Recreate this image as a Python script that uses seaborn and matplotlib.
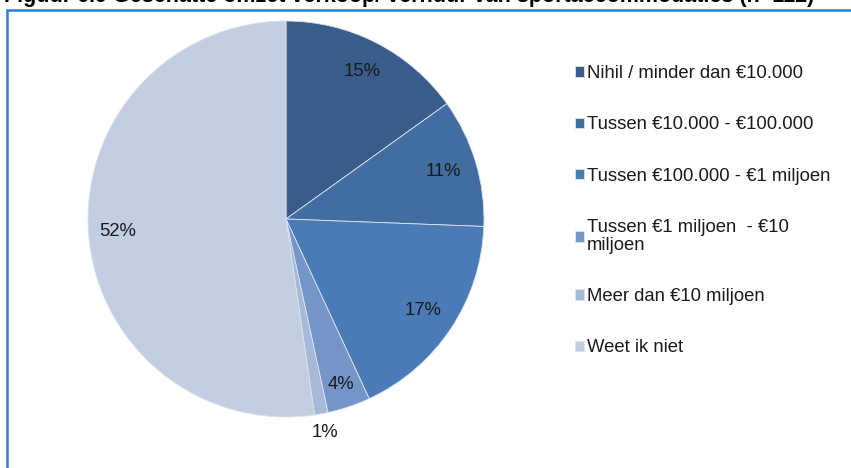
import matplotlib
matplotlib.use("Agg")
import matplotlib.pyplot as plt
import seaborn as sns
import numpy as np
from matplotlib.patches import Rectangle

categories = [
    "Nihil / minder dan €10.000",
    "Tussen €10.000 - €100.000",
    "Tussen €100.000 - €1 miljoen",
    "Tussen €1 miljoen  - €10\nmiljoen",
    "Meer dan €10 miljoen",
    "Weet ik niet",
]
values = [15.1, 10.5, 17.5, 3.5, 1.1, 52.3]
pct_labels = ["15%", "11%", "17%", "4%", "1%", "52%"]
colors = ["#385D8A", "#426DA1", "#4A7BB7", "#7395C8", "#A6B9D9", "#C3CEE3"]
title = "Figuur 6.9 Geschatte omzet verkoop/ verhuur van sportaccommodaties (n=112)"

sns.set_theme(style="white")
plt.rcParams["font.family"] = ["Liberation Sans", "DejaVu Sans"]

W, H = 851, 468
fig = plt.figure(figsize=(W / 100, H / 100), dpi=100)
fig.patch.set_facecolor("white")

cx, cy, r = 286, 219, 198
half = 1.1 * r
ax = fig.add_axes([(cx - half) / W, (H - cy - half) / H, 2 * half / W, 2 * half / H])

wedges, _ = ax.pie(values, colors=colors, startangle=90, counterclock=False,
                   wedgeprops=dict(edgecolor="#dde3ee", linewidth=0.6))
ax.set_xlim(-1.1, 1.1)
ax.set_ylim(-1.1, 1.1)
ax.set_aspect("equal")
ax.axis("off")

dists = [0.84, 0.83, 0.83, 0.88, 1.095, 0.85]
for w, lab, d in zip(wedges, pct_labels, dists):
    ang = np.deg2rad((w.theta1 + w.theta2) / 2)
    ax.text(d * np.cos(ang), d * np.sin(ang), lab, ha="center", va="center",
            fontsize=13.3, color="#1a1a1a")

leg = fig.legend(wedges, categories, loc="upper left",
                 bbox_to_anchor=(566 / W, 1 - 56 / H), frameon=False,
                 fontsize=13.3, handlelength=0.5, handleheight=0.5,
                 handletextpad=0.12, labelspacing=1.85, borderpad=0,
                 labelcolor="#1a1a1a")
for t in leg.get_texts():
    t.set_linespacing(1.1)

fig.patches.append(Rectangle((7 / W, -0.2), 1.2, 1.2 - 10 / H,
                             transform=fig.transFigure, fill=False,
                             edgecolor="#2b7fcf", linewidth=1.8, clip_on=False))

fig.text(4 / W, 1 - 2 / H, title, ha="left", va="baseline",
         fontsize=15.5, fontweight="bold", color="black")

fig.savefig("out.png", dpi=100)
